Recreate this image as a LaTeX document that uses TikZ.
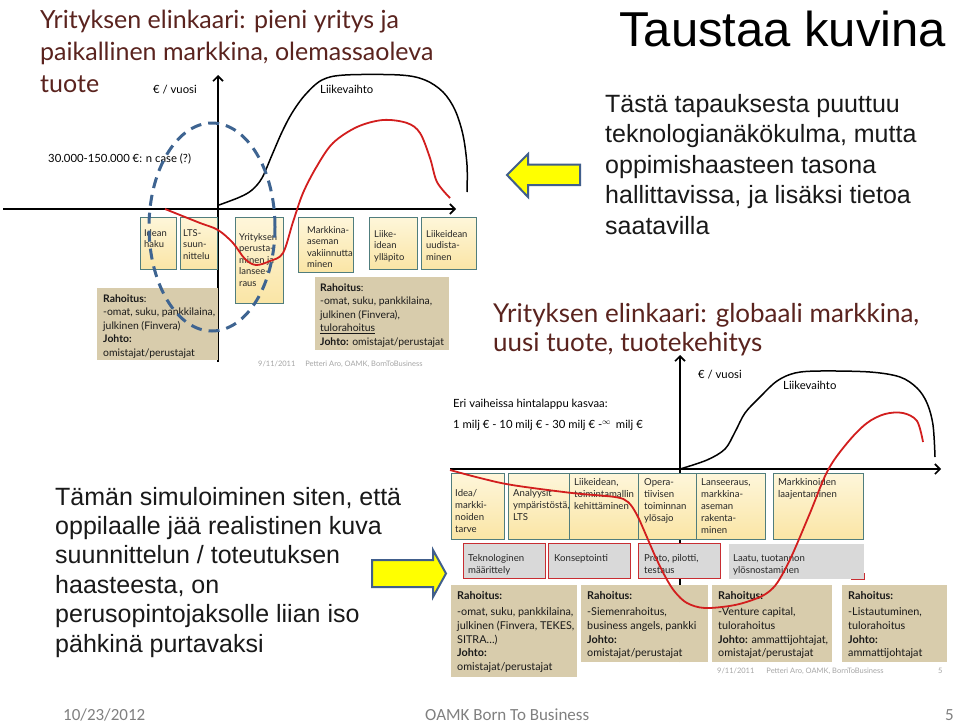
\documentclass[tikz,border=0pt]{standalone}
\usepackage{fontspec}
\setmainfont{Liberation Sans}
\newfontfamily\gill{Lato}
\newfontfamily\calib{Carlito}
\usetikzlibrary{arrows.meta}
\newcommand{\mlines}[1]{\begin{tabular}[t]{@{}l@{}}#1\end{tabular}}
\definecolor{ttl}{RGB}{90,35,30}
\definecolor{boxtop}{RGB}{254,246,218}
\definecolor{boxbot}{RGB}{250,229,165}
\definecolor{boxline}{RGB}{80,125,125}
\definecolor{tanbox}{RGB}{216,204,172}
\definecolor{rbox}{RGB}{217,217,217}
\definecolor{rline}{RGB}{200,45,50}
\definecolor{curvered}{RGB}{210,30,30}
\definecolor{ellblue}{RGB}{62,100,145}
\definecolor{arrfill}{RGB}{255,255,0}
\definecolor{arrline}{RGB}{65,95,140}
\definecolor{foot}{RGB}{128,128,128}
\definecolor{lfoot}{RGB}{165,165,165}
\begin{document}
\begin{tikzpicture}[x=1pt,y=-1pt,
  ybox/.style={draw=boxline, line width=1pt, top color=boxtop, bottom color=boxbot, inner sep=0pt, anchor=north west},
  gbox/.style={draw=rline, line width=1pt, fill=rbox, inner sep=0pt, anchor=north west},
  tbox/.style={fill=tanbox, inner sep=0pt, anchor=north west},
  btext/.style={font=\gill\fontsize{9.4}{11.6}\selectfont, inner sep=0pt, anchor=base west, text=black!85},
  bbtext/.style={font=\gill\fontsize{9.6}{12}\selectfont, inner sep=0pt, anchor=base west, text=black!85},
  rtext/.style={font=\gill\fontsize{10.4}{13.6}\selectfont, inner sep=0pt, anchor=base west, text=black!90},
  rtextb/.style={font=\gill\fontsize{10.8}{13.7}\selectfont, inner sep=0pt, anchor=base west, text=black!90},
  lbl/.style={font=\gill\fontsize{11.3}{13}\selectfont, inner sep=0pt, anchor=base west},
  dtitle/.style={font=\gill\fontsize{25}{32}\selectfont, text=ttl, inner sep=0pt, anchor=base west},
  para/.style={font=\fontsize{25}{30.5}\selectfont, inner sep=0pt, anchor=base west, text=black!90},
  axis/.style={line width=1.6pt, -{Straight Barb[length=5pt,width=10pt]}},
  blackcurve/.style={line width=1.5pt, black},
  redcurve/.style={line width=1.8pt, curvered},
  smallfoot/.style={font=\gill\fontsize{7.5}{9}\selectfont, text=lfoot, inner sep=0pt, anchor=base west},
  blockarrow/.style={fill=arrfill, draw=arrline, line width=2pt, line join=miter},
  footer/.style={font=\calib\fontsize{17}{20}\selectfont, text=foot, inner sep=0pt, anchor=base west}
]
\useasboundingbox (0,0) rectangle (960,723);
\fill[white] (0,0) rectangle (960,723);

%% ===== Top-left diagram =====
\node[dtitle] (t1) at (40,28) {\mlines{Yrityksen elinkaari: pieni yritys ja\\paikallinen markkina, olemassaoleva\\tuote}};
\coordinate (ax1l) at (3,209);
\coordinate (ax1r) at (456,209);
\coordinate (ay1b) at (218,362);
\coordinate (ay1t) at (218,75);
\draw[axis] (ax1l) -- (ax1r);
\draw[axis] (ay1b) -- (ay1t);
\node[lbl] (l1) at (153,93) {€ / vuosi};
\node[lbl] (l2) at (320,93) {Liikevaihto};
\node[lbl] (l3) at (48,162) {30.000-150.000 €: n case (?)};

\node[ybox, minimum width=36, minimum height=52] (a1) at (140,217) {};
\node[btext] (a1t) at (144,236) {\mlines{Idean\\haku}};
\node[ybox, minimum width=37, minimum height=52] (a2) at (180,217) {};
\node[btext] (a2t) at (183,236) {\mlines{LTS-\\suun-\\nittelu}};
\node[ybox, minimum width=48, minimum height=86] (a3) at (235,217) {};
\node[btext] (a3t) at (239,240) {\mlines{Yrityksen\\perusta-\\minen ja\\lansee-\\raus}};
\node[ybox, minimum width=55, minimum height=55] (a4) at (298,217) {};
\node[btext] (a4t) at (307,233) {\mlines{Markkina-\\aseman\\vakiinnutta\\minen}};
\node[ybox, minimum width=48, minimum height=52] (a5) at (369,217) {};
\node[btext] (a5t) at (374,237) {\mlines{Liike-\\idean\\ylläpito}};
\node[ybox, minimum width=55, minimum height=52] (a6) at (421,217) {};
\node[btext] (a6t) at (426,237) {\mlines{Liikeidean\\uudista-\\minen}};

\node[tbox, minimum width=121, minimum height=72] (r1) at (97,288) {};
\node[rtext] (r1t) at (103,302) {\mlines{\textbf{Rahoitus}:\\-omat, suku, pankkilaina,\\julkinen (Finvera)\\\textbf{Johto:}\\omistajat/perustajat}};
\node[tbox, minimum width=134, minimum height=73] (r2) at (315,277) {};
\node[rtext] (r2t) at (320,291) {\mlines{\textbf{Rahoitus}:\\-omat, suku, pankkilaina,\\julkinen (Finvera),\\\underline{tulorahoitus}\\\textbf{Johto:} omistajat/perustajat}};

\node[smallfoot] (f1) at (258,366) {9/11/2011\hspace{10pt}Petteri Aro, OAMK, BornToBusiness};

\draw[blackcurve] plot[smooth, tension=0.55] coordinates {(219,205) (240,197) (252,190) (262,178) (272,155) (282,132) (292,113) (305,95) (322,80) (345,75) (400,75) (425,80) (443,92) (455,110) (463,135) (467,165) (467,192)};
\draw[redcurve] plot[smooth, tension=0.55] coordinates {(165,209) (180,215) (200,223) (218,230) (233,243) (245,259) (256,265) (270,261) (283,253) (293,222) (303,193) (317,166) (333,143) (357,127) (383,120) (407,123) (420,133) (430,158) (437,182) (450,198)};
\draw[ellblue, line width=3pt, dash pattern=on 11pt off 7pt] (212,227) ellipse [x radius=63pt, y radius=104pt];

%% ===== Top-right text =====
\node[font=\fontsize{49}{52}\selectfont, inner sep=0pt, anchor=base west, text=black] (tk) at (619,46) {Taustaa kuvina};
\node[para] (p1) at (605,112) {\mlines{Tästä tapauksesta puuttuu\\teknologianäkökulma, mutta\\oppimishaasteen tasona\\hallittavissa, ja lisäksi tietoa\\saatavilla}};
\draw[blockarrow] (507,175) -- (528,154) -- (528,164.5) -- (580,164.5) -- (580,185) -- (528,185) -- (528,197) -- cycle;

%% ===== Bottom-right diagram =====
\node[dtitle, font=\gill\fontsize{26}{29.5}\selectfont] (t2) at (493,322) {\mlines{Yrityksen elinkaari: globaali markkina,\\uusi tuote, tuotekehitys}};
\coordinate (ax2l) at (450,469);
\coordinate (ax2r) at (941,469);
\coordinate (ay2b) at (680,662);
\coordinate (ay2t) at (680,355);
\draw[axis] (ax2l) -- (ax2r);
\draw[axis] (ay2b) -- (ay2t);
\node[lbl] (l4) at (698,378) {€ / vuosi};
\node[lbl] (l5) at (783,389) {Liikevaihto};
\node[lbl] (l6) at (453,407) {Eri vaiheissa hintalappu kasvaa:};
\node[lbl] (l7) at (453,428) {1 milj € - 10 milj € - 30 milj € -$^{\infty}$\, milj €};

\node[ybox, minimum width=53, minimum height=66] (b1) at (451,473) {};
\node[bbtext] (b1t) at (455,496) {\mlines{Idea/\\markki-\\noiden\\tarve}};
\node[ybox, minimum width=61, minimum height=66] (b2) at (508,473) {};
\node[bbtext] (b2t) at (513,496) {\mlines{Analyysit\\ympäristöstä,\\LTS}};
\node[ybox, minimum width=69, minimum height=66] (b3) at (569,473) {};
\node[bbtext] (b3t) at (574,485) {\mlines{Liikeidean,\\toimintamallin\\kehittäminen}};
\node[ybox, minimum width=58, minimum height=66] (b4) at (638,473) {};
\node[bbtext] (b4t) at (644,485) {\mlines{Opera-\\tiivisen\\toiminnan\\ylösajo}};
\node[ybox, minimum width=69, minimum height=66] (b5) at (696,473) {};
\node[bbtext] (b5t) at (701,485) {\mlines{Lanseeraus,\\markkina-\\aseman\\rakenta-\\minen}};
\node[ybox, minimum width=90, minimum height=66] (b6) at (773,473) {};
\node[bbtext] (b6t) at (778,485) {\mlines{Markkinoiden\\laajentaminen}};

\node[gbox, minimum width=82, minimum height=35] (g1) at (463,543) {};
\node[bbtext] (g1t) at (468,561) {\mlines{Teknologinen\\määrittely}};
\node[gbox, minimum width=82, minimum height=35] (g2) at (548,543) {};
\node[bbtext] (g2t) at (554,561) {Konseptointi};
\node[gbox, minimum width=82, minimum height=35] (g3) at (638,543) {};
\node[bbtext] (g3t) at (644,561) {\mlines{Proto, pilotti,\\testaus}};
\node[gbox, draw=none, minimum width=135, minimum height=35] (g4) at (728,543) {};
\draw[rline, line width=1pt] ([xshift=-13pt]g4.south east) -- (g4.south east) -- ([yshift=6pt]g4.south east);
\node[bbtext] (g4t) at (733,561) {\mlines{Laatu, tuotannon\\ylösnostaminen}};

\node[tbox, minimum width=126, minimum height=92] (s1) at (451,585) {};
\node[rtextb] (s1t) at (457,599) {\mlines{\textbf{Rahoitus:}\\[3pt]-omat, suku, pankkilaina,\\julkinen (Finvera, TEKES,\\SITRA…)\\\textbf{Johto:}\\omistajat/perustajat}};
\node[tbox, minimum width=127, minimum height=77] (s2) at (581,585) {};
\node[rtextb] (s2t) at (587,599) {\mlines{\textbf{Rahoitus:}\\[3pt]-Siemenrahoitus,\\business angels, pankki\\\textbf{Johto:}\\omistajat/perustajat}};
\node[tbox, minimum width=120, minimum height=77] (s3) at (712,585) {};
\node[rtextb] (s3t) at (718,599) {\mlines{\textbf{Rahoitus:}\\[3pt]-Venture capital,\\tulorahoitus\\\textbf{Johto:} ammattijohtajat,\\omistajat/perustajat}};
\node[tbox, minimum width=105, minimum height=77] (s4) at (842,585) {};
\node[rtextb] (s4t) at (848,599) {\mlines{\textbf{Rahoitus:}\\[3pt]-Listautuminen,\\tulorahoitus\\\textbf{Johto:}\\ammattijohtajat}};

\node[smallfoot] (f2) at (717,673) {9/11/2011\hspace{12pt}Petteri Aro, OAMK, BornToBusiness};
\node[smallfoot] (f3) at (938,673) {5};

\draw[blackcurve] plot[smooth, tension=0.55] coordinates {(680,469) (707,460) (725,449) (735,432) (745,413) (760,397) (777,381) (795,373) (820,371) (870,372) (900,377) (917,388) (927,403) (933,425) (935,457)};
\draw[redcurve] plot[smooth, tension=0.55] coordinates {(450,470) (480,478) (512,485) (572,493) (615,497) (628,502) (637,515) (646,535) (656,558) (666,578) (675,592) (687,603) (705,608) (735,605) (760,597) (773,588) (782,575) (793,553) (810,513) (828,470) (848,442) (867,423) (885,414) (903,413) (917,421) (923,442)};

%% ===== Bottom-left text =====
\node[para, font=\fontsize{25}{29.4}\selectfont] (p2) at (55,505) {\mlines{Tämän simuloiminen siten, että\\oppilaalle jää realistinen kuva\\suunnittelun / toteutuksen\\haasteesta, on\\perusopintojaksolle liian iso\\pähkinä purtavaksi}};
\draw[blockarrow] (372,560) -- (433,560) -- (433,550) -- (446,573.5) -- (433,597) -- (433,587) -- (372,587) -- cycle;

%% ===== Footer =====
\node[footer] (ft1) at (63,720) {10/23/2012};
\node[footer] (ft2) at (425,720) {OAMK Born To Business};
\node[footer] (ft3) at (945,720) {5};
\end{tikzpicture}
\end{document}
